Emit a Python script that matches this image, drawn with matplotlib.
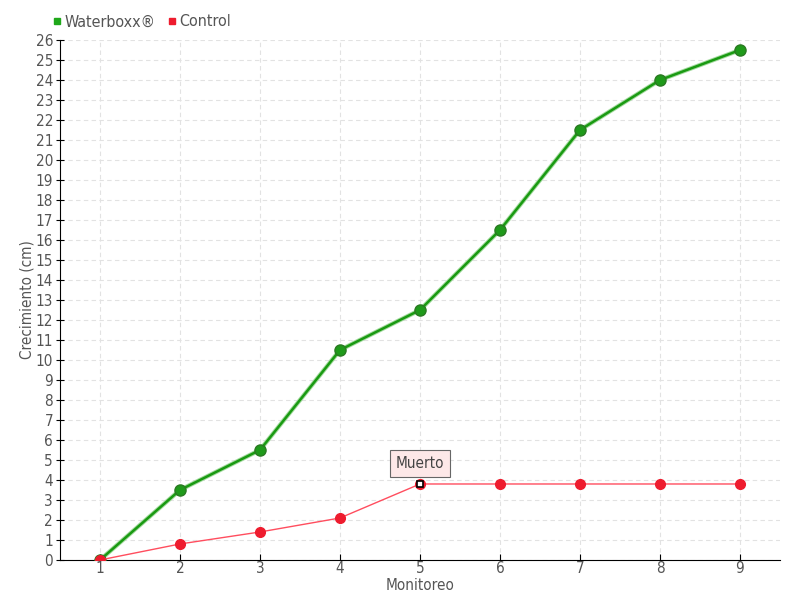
import matplotlib
matplotlib.use("Agg")
import matplotlib.pyplot as plt
from matplotlib.lines import Line2D

monitoreo = [1, 2, 3, 4, 5, 6, 7, 8, 9]
waterboxx = [0, 3.5, 5.5, 10.5, 12.5, 16.5, 21.5, 24, 25.5]
control = [0, 0.8, 1.4, 2.1, 3.8, 3.8, 3.8, 3.8, 3.8]
yticks = list(range(0, 27))

plt.rcParams['font.family'] = ['DejaVu Sans']
plt.rcParams['font.stretch'] = 'condensed'
txt = '#555555'

fig = plt.figure(figsize=(8, 6), dpi=100)
ax = fig.add_axes([0.075, 0.0667, 0.9, 0.8666])

ax.plot(monitoreo, waterboxx, color='#a5dba0', lw=3.2, zorder=3)
ax.plot(monitoreo, waterboxx, color='#1a9a12', lw=1.8, zorder=4, marker='o', ms=8,
        mfc='#1f9a1a', mec='#2a7a22', mew=1)
ax.plot(monitoreo, control, color='#ff4d5e', lw=1, zorder=5, marker='o', ms=7,
        mfc='#ee1c2e', mec='#ee1c2e')
ax.plot([monitoreo[4]], [control[4]], marker='s', ms=5, mfc='white', mec='black', mew=1.2, zorder=7)

ax.annotate('Muerto', xy=(monitoreo[4], control[4]), xytext=(0, 15), textcoords='offset points',
            ha='center', va='center', fontsize=11, color='#444444', zorder=8,
            bbox=dict(boxstyle='square,pad=0.4', fc='#fde8e8', ec='#666666', lw=0.8))

ax.set_xlim(0.5, 9.5)
ax.set_ylim(0, 26)
ax.set_xticks(monitoreo)
ax.set_yticks(yticks)
ax.tick_params(axis='both', colors='black', labelcolor=txt, labelsize=11)
ax.tick_params(axis='x', direction='in', length=4, pad=1)
ax.tick_params(axis='y', direction='inout', length=6, pad=2)
ax.grid(True, color='#e2e2e2', ls=(0, (4, 3)), lw=0.8)
ax.set_axisbelow(True)
for s in ['top', 'right']:
    ax.spines[s].set_visible(False)
ax.spines['left'].set_color('black')
ax.spines['bottom'].set_color('black')
ax.set_xlabel('Monitoreo', color=txt, fontsize=11)
ax.set_ylabel('Crecimiento (cm)', color=txt, fontsize=11)
ax.yaxis.set_label_coords(-0.035, 0.5)
ax.xaxis.set_label_coords(0.5, -0.034)

handles = [Line2D([], [], ls='none', marker='s', ms=5, color='#1fa81a'),
           Line2D([], [], ls='none', marker='s', ms=5, color='#ee1c2e')]
fig.legend(handles, ['Waterboxx®', 'Control'], loc='upper left', bbox_to_anchor=(0.045, 1.0),
           ncol=2, frameon=False, fontsize=11.5, labelcolor=txt, handletextpad=0.1,
           columnspacing=0.6, handlelength=0.8)

fig.savefig('out.png', dpi=100)
